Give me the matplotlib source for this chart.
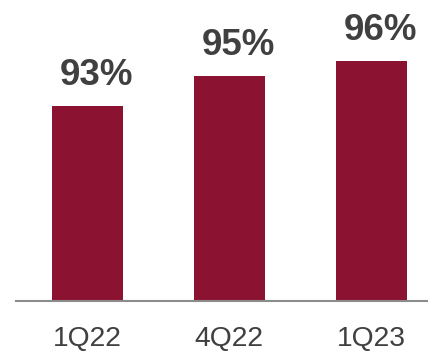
import matplotlib.pyplot as plt

# Data
quarters = ['1Q22', '4Q22', '1Q23']
values = [93, 95, 96]

BAR_COLOR = '#8C1231'
TEXT_COLOR = '#404040'

plt.rcParams['font.family'] = ['Liberation Sans', 'DejaVu Sans']

fig = plt.figure(figsize=(4.28, 3.53), dpi=100)
ax = fig.add_axes([16 / 428, 52 / 353, 412 / 428, 300 / 353])

x_pos = range(len(quarters))
rects = ax.bar(x_pos, values, width=0.5, color=BAR_COLOR, bottom=0)

# value labels above the bars (sit a little right of the bar centre)
for xp, val in zip(x_pos, values):
    ax.annotate('%d%%' % val, xy=(xp, val), xytext=(6.5, 15), textcoords='offset points',
                ha='center', va='baseline', fontsize=26.5, fontweight='bold',
                color=TEXT_COLOR, annotation_clip=False)

# category labels below the baseline
for xp, q in zip(x_pos, quarters):
    ax.annotate(q, xy=(xp, 80), xytext=(0, -32.5), textcoords='offset points',
                ha='center', va='baseline', fontsize=20.3, color=TEXT_COLOR,
                annotation_clip=False)

ax.set_xlim(-0.5, 2.4)
ax.set_ylim(80, 100)
ax.axhline(80, color='#8c8c8c', linewidth=1.5, clip_on=False)

for side in ['top', 'right', 'left', 'bottom']:
    ax.spines[side].set_visible(False)
ax.set_xticks([])
ax.set_yticks([])

fig.savefig('out.png', dpi=100)
